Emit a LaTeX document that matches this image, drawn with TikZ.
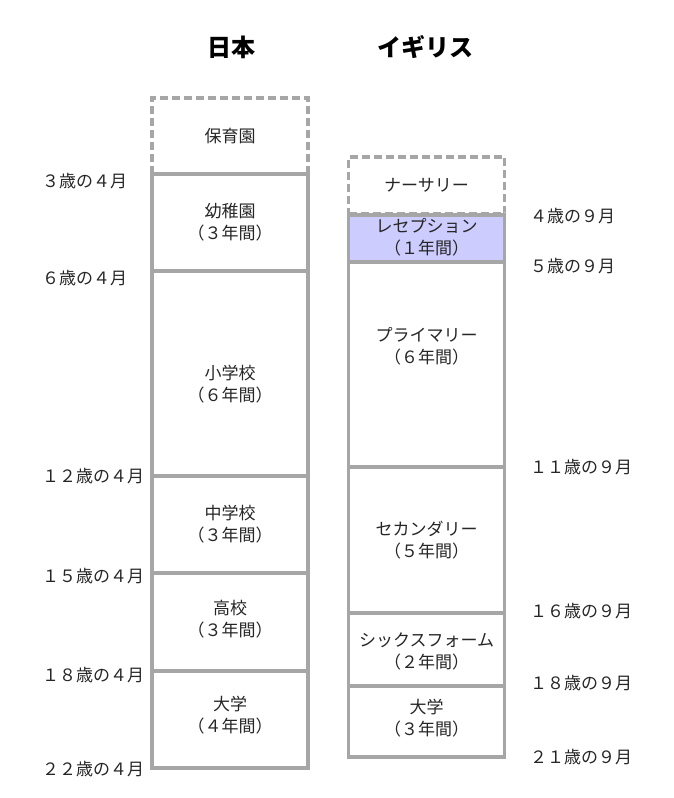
\documentclass[tikz,border=0pt]{standalone}
\usepackage{fontspec}
\setmainfont{Noto Sans CJK JP}
\usetikzlibrary{positioning}
\definecolor{boxgray}{HTML}{A6A6A6}
\definecolor{recep}{HTML}{CCCCFF}

\begin{document}
\begin{tikzpicture}[
  x=1pt,y=-1pt,
  font=\fontsize{17}{22}\selectfont,
  stage/.style   ={draw=boxgray,line width=3.4pt,inner sep=0pt,outer sep=0pt,
                    minimum width=156pt,fill=white},
  optional/.style={stage,dashed,dash pattern=on 8pt off 4pt},
  txt/.style     ={align=center,text=black!85,inner sep=0pt},
  age/.style     ={anchor=west,text=black!85,inner sep=0pt},
  title/.style   ={font=\fontsize{24}{28}\selectfont\bfseries}]

\useasboundingbox (0,0) rectangle (674,798);

% --- column titles ---
\node[title] (jp) at (231,47) {日本};
\node[title] (uk) at (425,47) {イギリス};

% --- Japan ---
\node[optional,minimum height=76pt] (hoiku) at (230,136) {};
\node[stage,minimum height=97pt]  (youchi) at (230,222.5) {};
\node[stage,minimum height=205pt] (shou)   at (230,373.5) {};
\node[stage,minimum height=97pt]  (chuu)   at (230,524.5) {};
\node[stage,minimum height=98pt]  (kou)    at (230,622) {};
\node[stage,minimum height=97pt]  (daiJ)   at (230,719.5) {};

\node[txt] (thoiku)  at (hoiku)  {保育園};
\node[txt] (tyouchi) at (youchi) {幼稚園\\（３年間）};
\node[txt,yshift=-11pt] (tshou) at (shou) {小学校\\（６年間）};
\node[txt] (tchuu)   at (chuu)   {中学校\\（３年間）};
\node[txt,yshift=3pt] (tkou) at (kou) {高校\\（３年間）};
\node[txt,yshift=4pt] (tdaiJ) at (daiJ) {大学\\（４年間）};

% --- United Kingdom ---
\node[optional,minimum height=57pt] (nursery) at (426.5,185.5) {};
\node[stage,fill=recep,minimum height=48pt] (recept) at (426.5,239) {};
\node[stage,minimum height=205pt] (primary)   at (426.5,364.5) {};
\node[stage,minimum height=146pt] (second)    at (426.5,540) {};
\node[stage,minimum height=73pt]  (sixth)     at (426.5,649.5) {};
\node[stage,minimum height=71pt]  (daiU)      at (426.5,721.5) {};

\node[txt] (tnursery) at (nursery) {ナーサリー};
\node[txt,yshift=1.5pt] (trecept) at (recept) {レセプション\\（１年間）};
\node[txt,yshift=18pt] (tprimary) at (primary) {プライマリー\\（６年間）};
\node[txt] (tsecond)  at (second)  {セカンダリー\\（５年間）};
\node[txt,yshift=-2pt] (tsixth) at (sixth) {シックスフォーム\\（２年間）};
\node[txt,yshift=3pt] (tdaiU) at (daiU) {大学\\（３年間）};

% --- ages, Japan (left) ---
\node[age] (a3)  at (42,181) {３歳の４月};
\node[age] (a6)  at (42,278) {６歳の４月};
\node[age] (a12) at (42,476) {１２歳の４月};
\node[age] (a15) at (42,576) {１５歳の４月};
\node[age] (a18) at (42,675) {１８歳の４月};
\node[age] (a22) at (42,769) {２２歳の４月};

% --- ages, UK (right) ---
\node[age] (b4)  at (530,216) {４歳の９月};
\node[age] (b5)  at (530,266) {５歳の９月};
\node[age] (b11) at (530,467) {１１歳の９月};
\node[age] (b16) at (530,611) {１６歳の９月};
\node[age] (b18) at (530,683) {１８歳の９月};
\node[age] (b21) at (530,757) {２１歳の９月};

\end{tikzpicture}
\end{document}
